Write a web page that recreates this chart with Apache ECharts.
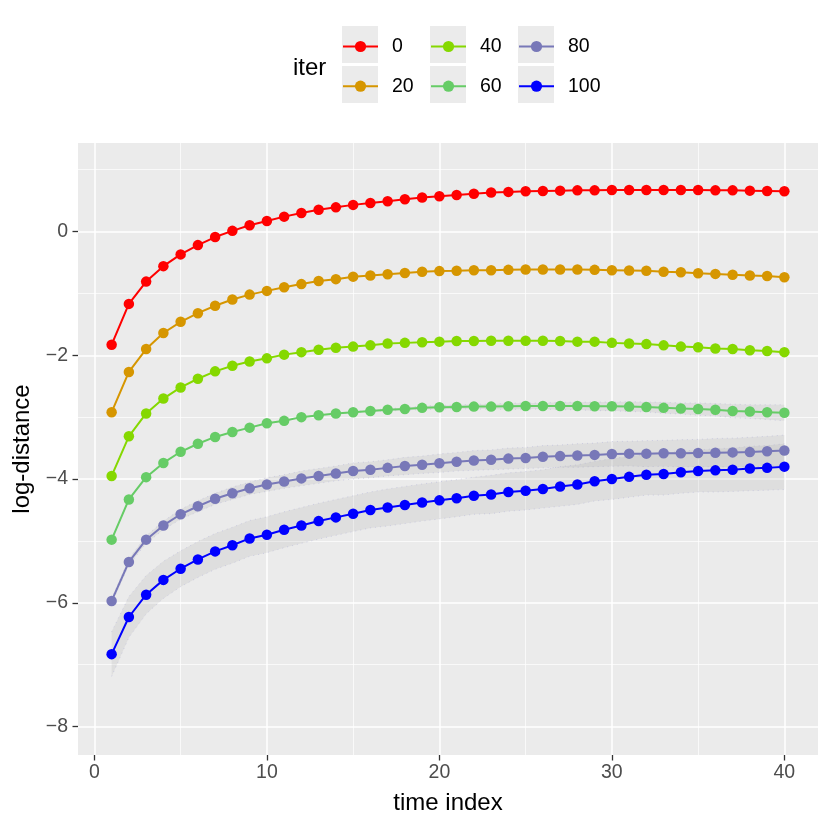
<!DOCTYPE html>
<html>
<head>
<meta charset="utf-8">
<script src="https://cdn.jsdelivr.net/npm/echarts@6/dist/echarts.min.js"></script>
<style>
  html, body { margin: 0; padding: 0; background: #fff; }
  #chart { width: 830px; height: 830px; }
</style>
</head>
<body>
<div id="chart"></div>
<script>
var timeIndex = [1,2,3,4,5,6,7,8,9,10,11,12,13,14,15,16,17,18,19,20,
                 21,22,23,24,25,26,27,28,29,30,31,32,33,34,35,36,37,38,39,40];

var iter0 = [-1.83,-1.17,-0.81,-0.56,-0.37,-0.22,-0.09,0.01,0.10,0.17,0.24,0.30,0.35,0.39,0.43,0.46,0.49,0.52,0.55,0.57,
             0.59,0.61,0.63,0.64,0.65,0.655,0.66,0.665,0.665,0.67,0.67,0.67,0.67,0.67,0.67,0.665,0.665,0.66,0.655,0.65];
var iter20 = [-2.92,-2.27,-1.90,-1.64,-1.46,-1.32,-1.20,-1.10,-1.02,-0.96,-0.90,-0.85,-0.80,-0.77,-0.73,-0.71,-0.69,-0.67,-0.65,-0.64,
              -0.635,-0.625,-0.625,-0.62,-0.615,-0.615,-0.615,-0.615,-0.62,-0.625,-0.63,-0.635,-0.65,-0.66,-0.675,-0.685,-0.70,-0.71,-0.72,-0.74];
var iter40 = [-3.95,-3.31,-2.94,-2.70,-2.52,-2.38,-2.26,-2.17,-2.10,-2.05,-1.99,-1.95,-1.91,-1.88,-1.86,-1.84,-1.81,-1.80,-1.79,-1.78,
              -1.77,-1.77,-1.765,-1.765,-1.765,-1.765,-1.77,-1.78,-1.78,-1.80,-1.81,-1.82,-1.84,-1.86,-1.87,-1.89,-1.90,-1.92,-1.93,-1.95];
var iter60 = [-4.98,-4.33,-3.97,-3.74,-3.56,-3.43,-3.32,-3.24,-3.17,-3.10,-3.06,-3.00,-2.97,-2.94,-2.92,-2.90,-2.88,-2.87,-2.85,-2.84,
              -2.835,-2.83,-2.83,-2.825,-2.82,-2.82,-2.82,-2.82,-2.825,-2.825,-2.83,-2.835,-2.85,-2.86,-2.87,-2.88,-2.90,-2.91,-2.92,-2.93];
var iter80 = [-5.97,-5.34,-4.98,-4.75,-4.57,-4.44,-4.32,-4.23,-4.15,-4.09,-4.04,-3.99,-3.95,-3.91,-3.87,-3.85,-3.82,-3.79,-3.77,-3.745,
              -3.72,-3.70,-3.69,-3.67,-3.66,-3.64,-3.63,-3.62,-3.61,-3.595,-3.59,-3.59,-3.585,-3.585,-3.58,-3.575,-3.57,-3.565,-3.55,-3.54];
var iter100 = [-6.83,-6.23,-5.87,-5.63,-5.45,-5.30,-5.17,-5.07,-4.96,-4.90,-4.82,-4.75,-4.68,-4.62,-4.56,-4.50,-4.46,-4.42,-4.38,-4.345,
               -4.31,-4.27,-4.25,-4.21,-4.19,-4.16,-4.12,-4.09,-4.035,-4.00,-3.965,-3.93,-3.92,-3.89,-3.87,-3.86,-3.85,-3.83,-3.82,-3.80];

// ribbon half widths (iter 60, 80, 100)
var band60 = [0,0,0,0,0,0,0,0,0,0,0,0,0,0,0.01,0.01,0.02,0.02,0.03,0.03,
              0.03,0.04,0.04,0.05,0.05,0.05,0.06,0.06,0.07,0.07,0.08,0.08,0.09,0.09,0.10,0.10,0.11,0.11,0.12,0.13];
var band80 = [0.04,0.05,0.06,0.07,0.08,0.09,0.09,0.10,0.10,0.11,0.11,0.12,0.12,0.12,0.13,0.13,0.13,0.14,0.14,0.15,
              0.15,0.16,0.16,0.17,0.17,0.18,0.18,0.19,0.19,0.20,0.20,0.21,0.21,0.22,0.22,0.23,0.23,0.24,0.24,0.25];
var band100 = [0.36,0.33,0.31,0.30,0.29,0.29,0.29,0.29,0.29,0.29,0.29,0.29,0.29,0.29,0.29,0.29,0.30,0.30,0.30,0.30,
               0.30,0.30,0.31,0.31,0.31,0.31,0.32,0.32,0.32,0.33,0.33,0.33,0.34,0.34,0.34,0.35,0.35,0.36,0.36,0.37];

var iterNames = ['0','20','40','60','80','100'];
var iterColors = ['#FF0000','#D69600','#85D800','#66CC66','#7878B8','#0000FF'];
var xTicks = [0,10,20,30,40];
var xMinor = [5,15,25,35];
var yTicks = [-8,-6,-4,-2,0];
var yMinor = [-7,-5,-3,-1,1];

var FONT = '"Liberation Sans", Arial, Helvetica, sans-serif';
var myChart = echarts.init(document.getElementById('chart'));

function pairs(vals) {
    return timeIndex.map(function (t, i) { return [t, vals[i]]; });
}

// grey confidence band with faint dotted edges
function ribbon(mean, half) {
    var rows = timeIndex.map(function (t, i) { return [t, mean[i] - half[i], mean[i] + half[i]]; });
    var edge = { stroke: 'rgba(165,165,215,0.4)', lineWidth: 1, lineDash: [1, 4], fill: null };
    return {
        type: 'custom', silent: true, z: 1,
        data: rows,
        encode: { x: 0, y: [1, 2] },
        renderItem: function (params, api) {
            if (params.dataIndex !== 0) return;
            var upper = rows.map(function (r) { return api.coord([r[0], r[2]]); });
            var lower = rows.map(function (r) { return api.coord([r[0], r[1]]); });
            return {
                type: 'group',
                children: [
                    { type: 'polygon', shape: { points: upper.concat(lower.slice().reverse()) },
                      style: { fill: 'rgba(150,150,150,0.15)' } },
                    { type: 'polyline', shape: { points: upper }, style: edge },
                    { type: 'polyline', shape: { points: lower }, style: edge }
                ]
            };
        }
    };
}

var allSeries = [ribbon(iter60, band60), ribbon(iter80, band80), ribbon(iter100, band100)];

[iter0, iter20, iter40, iter60, iter80, iter100].forEach(function (vals, k) {
    allSeries.push({
        name: iterNames[k], type: 'line', data: pairs(vals),
        symbol: 'circle', symbolSize: 10.5, z: 3,
        itemStyle: { color: iterColors[k] },
        lineStyle: { color: iterColors[k], width: 2 }
    });
});

function minus(v) { return String(v).replace('-', '\u2212'); }

var LEG_FS = 19.5;
var legendBase = {
    orient: 'vertical', top: 36.5, itemWidth: 35, itemHeight: 14, itemGap: 39.2 - LEG_FS,
    padding: 0, selectedMode: false,
    textStyle: { fontFamily: FONT, fontSize: LEG_FS, color: '#000', padding: [0, 0, 0, 9] }
};
function legendCol(names, left) {
    return Object.assign({}, legendBase, { data: names, left: left });
}

function keyBox(x, y) {
    return { type: 'rect', left: x, top: y, z: -1,
             shape: { width: 36, height: 37 },
             style: { fill: '#EBEBEB' } };
}

var option = {
    backgroundColor: '#FFFFFF',
    animation: false,
    title: {
        text: 'iter', left: 288, top: 51.5,
        textStyle: { fontFamily: FONT, fontSize: 24, fontWeight: 'normal', color: '#000' }
    },
    legend: [
        legendCol(['0', '20'], 342),
        legendCol(['40', '60'], 430),
        legendCol(['80', '100'], 518)
    ],
    graphic: [
        keyBox(342, 26), keyBox(342, 66),
        keyBox(430, 26), keyBox(430, 66),
        keyBox(518, 26), keyBox(518, 66)
    ],
    grid: {
        left: 78, right: 12, top: 143, bottom: 75,
        show: true, backgroundColor: '#EBEBEB', borderWidth: 0
    },
    xAxis: [{
        type: 'value', min: -0.95, max: 41.95,
        name: 'time index', nameLocation: 'middle', nameGap: 36,
        nameTextStyle: { fontFamily: FONT, fontSize: 24, color: '#000' },
        axisLine: { show: false, onZero: false },
        axisTick: { show: true, length: 5.5, customValues: xTicks, lineStyle: { color: '#333', width: 1.3 } },
        axisLabel: { customValues: xTicks, margin: 8, fontFamily: FONT, fontSize: 19.5, color: '#4D4D4D' },
        splitLine: { show: true, lineStyle: { color: '#FFFFFF', width: 1.5 } }
    }, {
        type: 'value', min: -0.95, max: 41.95, position: 'bottom',
        axisLine: { show: false, onZero: false }, axisLabel: { show: false },
        axisTick: { show: false, customValues: xMinor },
        splitLine: { show: true, lineStyle: { color: '#FFFFFF', width: 0.7 } }
    }],
    yAxis: [{
        type: 'value', min: -8.46, max: 1.43,
        name: 'log-distance', nameLocation: 'middle', nameGap: 44, nameRotate: 90,
        nameTextStyle: { fontFamily: FONT, fontSize: 24, color: '#000' },
        axisLine: { show: false, onZero: false },
        axisTick: { show: true, length: 5.5, customValues: yTicks, lineStyle: { color: '#333', width: 1.3 } },
        axisLabel: { customValues: yTicks, margin: 10, fontFamily: FONT, fontSize: 19.5, color: '#4D4D4D',
                     formatter: minus },
        splitLine: { show: true, lineStyle: { color: '#FFFFFF', width: 1.5 } }
    }, {
        type: 'value', min: -8.46, max: 1.43, position: 'left',
        axisLine: { show: false, onZero: false }, axisLabel: { show: false },
        axisTick: { show: false, customValues: yMinor },
        splitLine: { show: true, lineStyle: { color: '#FFFFFF', width: 0.7 } }
    }],
    series: allSeries
};
myChart.setOption(option);
</script>
</body>
</html>
